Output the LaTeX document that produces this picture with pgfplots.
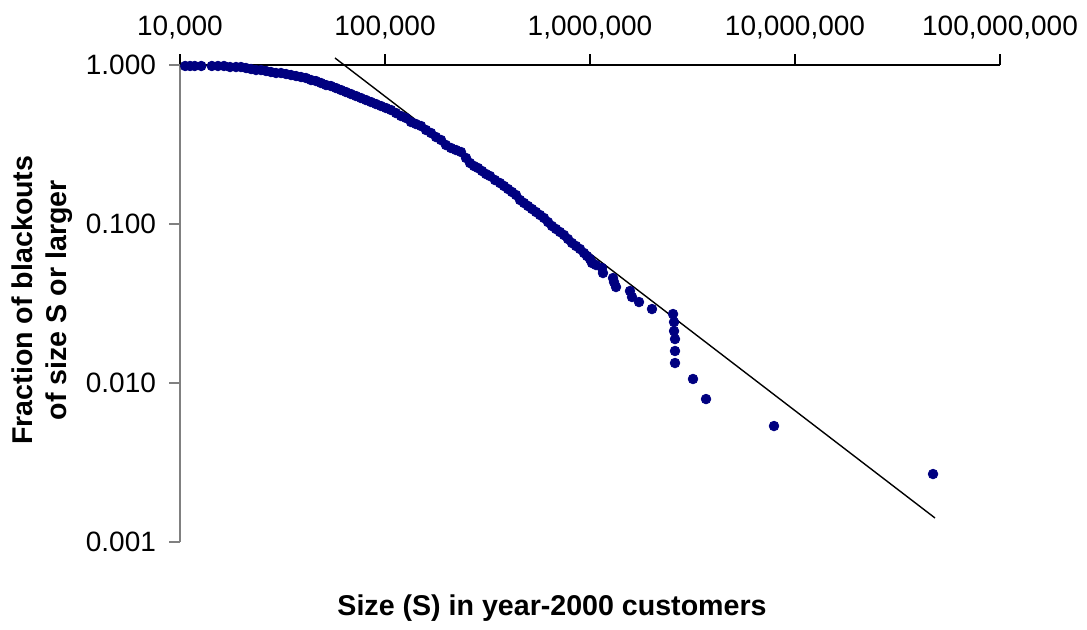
\documentclass[border=0pt]{standalone}
\usepackage{pgfplots}
\pgfplotsset{compat=1.18}
\usepackage{fontspec}
\setmainfont{Liberation Sans}
\definecolor{navy}{RGB}{0,0,128}
\begin{document}
\begin{tikzpicture}
\begin{axis}[
  scale only axis,
  width=410pt, height=238.5pt,
  xmode=log, ymode=log,
  xmin=10000, xmax=100000000,
  ymin=0.001, ymax=1,
  axis x line*=top,
  axis y line*=left,
  x axis line style={black, line width=0.6pt},
  y axis line style={gray, line width=0.6pt},
  tick align=outside,
  major tick length=5.5pt,
  xtick style={black, line width=0.6pt},
  ytick style={gray, line width=0.6pt},
  xminorticks=false, yminorticks=false,
  minor x tick style={draw=none}, minor y tick style={draw=none},
  xtick={10000,100000,1000000,10000000,100000000},
  xticklabels={{10,000},{100,000},{1,000,000},{10,000,000},{100,000,000}},
  ytick={0.001,0.01,0.1,1},
  yticklabels={0.001,0.010,0.100,1.000},
  /pgf/number format/assume math mode=true,
  tick label style={font=\fontsize{14}{16}\selectfont},
  xticklabel style={yshift=4pt},
  yticklabel style={xshift=-3pt},
  clip=false,
]
\path (rel axis cs:-0.2195,-0.1824) rectangle (rel axis cs:1.1061,1.1363);

\addplot[navy, only marks, mark=*, mark size=2.4pt, mark options={fill=navy, draw=navy}] coordinates {
(10600,0.986) (11200,0.986) (11800,0.986) (12700,0.986) (14300,0.986)
(15320,0.986) (16390,0.986) (17540,0.9714) (18760,0.9714) (19840,0.9714)
(20990,0.9575) (22200,0.9437) (23480,0.9301) (24840,0.9301) (26280,0.9168)
(27790,0.9036) (29400,0.8906) (31100,0.8906) (32900,0.8777) (34800,0.8651)
(36810,0.8527) (38930,0.8405) (41180,0.8284) (43550,0.8047) (46070,0.7931)
(48730,0.7705) (51540,0.7484) (54510,0.7377) (57670,0.7166) (61000,0.6962)
(64520,0.6763) (68240,0.6570) (72180,0.6383) (76350,0.6200) (80760,0.6023)
(85420,0.5852) (90360,0.5684) (95580,0.5522) (101100,0.5365) (106950,0.5212)
(113100,0.4990) (119700,0.4777) (126600,0.4642) (133900,0.4380) (141600,0.4255)
(149800,0.4134) (158500,0.3902) (167700,0.3736) (177300,0.3524) (187600,0.3375)
(198400,0.3139) (209900,0.3006) (222000,0.2920) (234800,0.2837) (248400,0.2602)
(259800,0.2418) (271800,0.2315) (284300,0.2250) (297400,0.2154) (311000,0.2062)
(325300,0.2003) (344100,0.1890) (363900,0.1810) (380700,0.1734) (398100,0.1660)
(416500,0.1590) (435500,0.1522) (455600,0.1416) (476400,0.1356) (498400,0.1298)
(521300,0.1243) (545200,0.1190) (570300,0.1139) (596400,0.1091) (623800,0.1029)
(652400,0.09714) (682400,0.09302) (713800,0.08906) (746600,0.08527) (780800,0.08047)
(816600,0.07596) (854300,0.07272) (893300,0.06964) (934800,0.06570) (966800,0.06290)
(1000000,0.06023) (1022800,0.05684) (1069800,0.05522) (1144100,0.05287) (1157000,0.04918)
(1295000,0.04574) (1309600,0.04317) (1339200,0.04016) (1567000,0.03791) (1602600,0.03475)
(1733800,0.03231) (2006000,0.02920) (2541000,0.02716) (2570000,0.02418) (2570000,0.02123)
(2598000,0.01890) (2598000,0.01590) (2598000,0.01336) (3180000,0.01060) (3681000,0.007930)
(7900000,0.005365) (47130000,0.002677)
};

\addplot[black, line width=0.7pt] coordinates {
(57030,1.107) (48200000,0.001416)
};

\node[font=\bfseries\fontsize{14.3}{17}\selectfont, rotate=90, align=center]
  at (rel axis cs:-0.168,0.507) {Fraction of blackouts\\of size S or larger};
\node[font=\bfseries\fontsize{14.3}{17}\selectfont]
  at (rel axis cs:0.4537,-0.138) {Size (S) in year-2000 customers};
\end{axis}
\end{tikzpicture}
\end{document}
